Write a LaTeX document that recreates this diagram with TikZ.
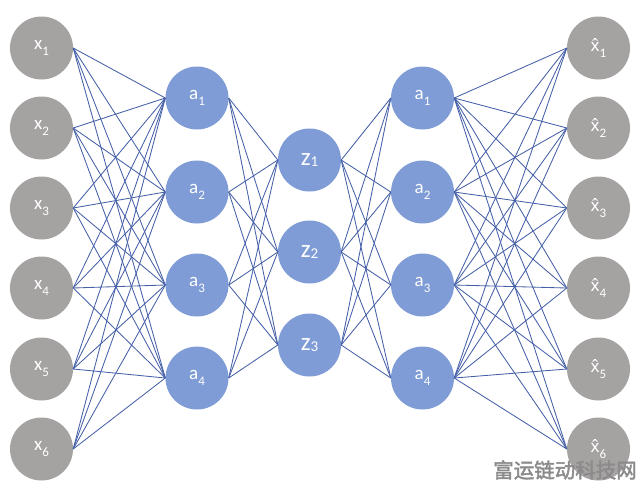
\documentclass[tikz,border=0pt]{standalone}
\usepackage{fontspec}
\setmainfont{Carlito}
\newfontfamily\cjkwm[FakeBold=2]{Noto Sans CJK SC}
\newfontfamily\hatfont{Noto Sans}
\definecolor{greyfill}{HTML}{A5A2A2}
\definecolor{bluefill}{HTML}{7F9CD6}
\definecolor{linkcol}{HTML}{4560A8}
\definecolor{markcol}{HTML}{8C8A8A}
\newcommand{\lowsub}[1]{\raisebox{-0.3em}{\fontsize{13}{13}\selectfont #1}}
\tikzset{
  unit/.style={circle,inner sep=0pt,minimum size=63pt,text=white,font=\fontsize{19}{19}\selectfont},
  inputunit/.style={unit,fill=greyfill},
  hiddenunit/.style={unit,fill=bluefill},
  codeunit/.style={unit,fill=bluefill,font=\fontsize{25}{25}\selectfont},
  link/.style={draw=linkcol,line width=0.85pt},
}
\begin{document}
\begin{tikzpicture}[x=1pt,y=-1pt]
\useasboundingbox (0,0) rectangle (642,488);
\foreach \i/\yy in {1/48,2/128,3/208,4/288,5/369,6/449}{
  \node[inputunit] (x\i) at (41.5,\yy) {x\lowsub{\i}};
  \node[inputunit] (h\i) at (598.5,\yy) {{\hatfont\fontsize{17}{17}\selectfont x^^^^0302}\lowsub{\i}};
}
\foreach \i/\yy in {1/98,2/192,3/285,4/378}{
  \node[hiddenunit] (a\i) at (197,\yy) {a\lowsub{\i}};
  \node[hiddenunit] (b\i) at (422.5,\yy) {a\lowsub{\i}};
}
\foreach \i/\yy in {1/160,2/252,3/345}{
  \node[codeunit] (z\i) at (309.5,\yy) {z\raisebox{-0.03em}{\fontsize{15}{15}\selectfont\i}};
}
\foreach \i in {1,...,6}\foreach \j in {1,...,4}{
  \draw[link] (x\i.east) -- (a\j.west);
  \draw[link] (b\j.east) -- (h\i.west);
}
\foreach \i in {1,...,4}\foreach \j in {1,2,3}{
  \draw[link] (a\i.east) -- (z\j.west);
  \draw[link] (z\j.east) -- (b\i.west);
}
\node[inner sep=0pt,font=\cjkwm\fontsize{20.5}{20.5}\selectfont,text=markcol] (mark) at (565,470) {富运链动科技网};
\end{tikzpicture}
\end{document}
